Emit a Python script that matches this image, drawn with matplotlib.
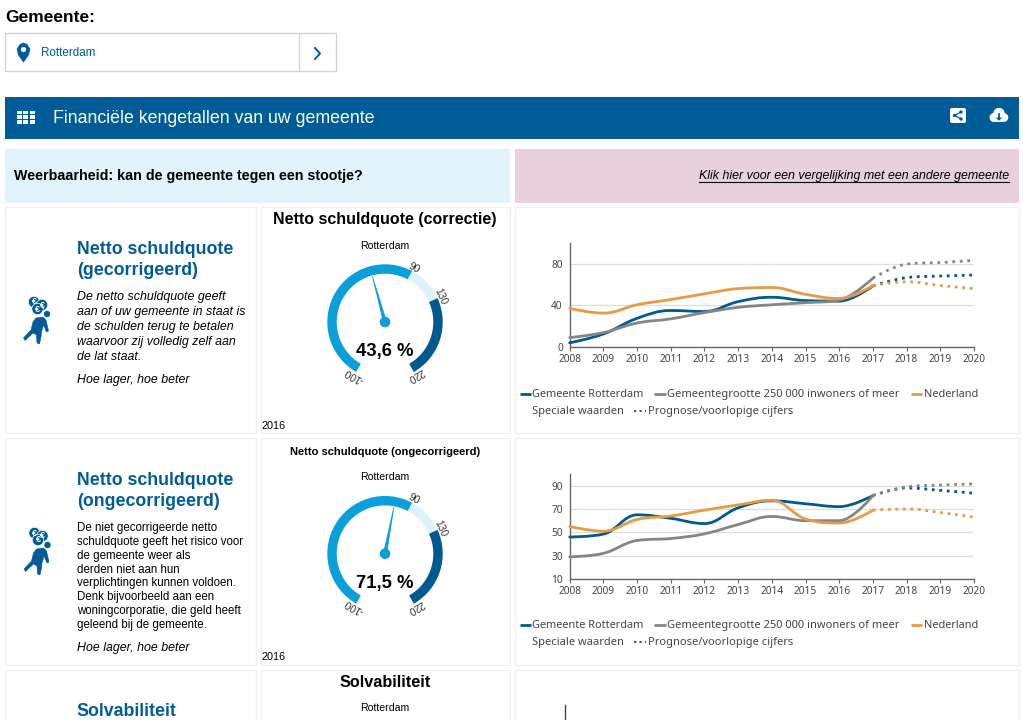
import math
import matplotlib
matplotlib.use('Agg')
import matplotlib.pyplot as plt
from matplotlib.patches import Rectangle, Wedge, Circle, Polygon, PathPatch, FancyBboxPatch
from matplotlib.path import Path

plt.rcParams['font.family'] = ['Liberation Sans', 'DejaVu Sans']

W, H = 1023, 720

years = [2008, 2009, 2010, 2011, 2012, 2013, 2014, 2015, 2016, 2017]
years_prog = [2017, 2018, 2019, 2020]
x_ticks = list(range(2008, 2021))

# chart 1: gecorrigeerd
rot_1 = [4, 12.5, 27.5, 35, 34, 43.5, 47.7, 44.5, 44, 58.6]
rot_1_prog = [58.6, 66.5, 68, 69]
groot_1 = [9, 13.8, 23, 27, 33, 38, 40.5, 42.5, 45, 66]
groot_1_prog = [66, 79.5, 81, 83]
nl_1 = [37, 32.5, 40.5, 45.5, 51, 56, 57, 50.5, 46.5, 59]
nl_1_prog = [59, 62.5, 59, 56]
y_ticks_1 = [0, 40, 80]

# chart 2: ongecorrigeerd
rot_2 = [46, 48.5, 65, 62, 57.5, 71, 77, 74.5, 72, 81.5]
rot_2_prog = [81.5, 88, 86, 83.5]
groot_2 = [29, 32, 43, 44.7, 48.7, 56.7, 63.6, 60, 60, 81.5]
groot_2_prog = [81.5, 89, 90.5, 91.5]
nl_2 = [55, 51, 61, 64, 69, 73.5, 77.5, 61.5, 58, 69]
nl_2_prog = [69, 70, 67, 63]
y_ticks_2 = [10, 30, 50, 70, 90]

# gauges
gauge_bounds = [-100, 90, 130, 220]
gauge_value_1 = 43.6
gauge_value_2 = 71.5

BLUE = '#005c96'
DARK = '#00598f'
GREY = '#858585'
ORANGE = '#e89b45'
CYAN = '#0a9fd8'
PALE = '#dff2fb'
TXT = '#444444'
LEGEND_FONT = 'Noto Sans'


def spline(x, y, s=1.5):
    # same curve as a highcharts spline
    verts = [(x[0], y[0])]
    codes = [Path.MOVETO]
    prev_right = (x[0], y[0])
    for i in range(1, len(x)):
        if i < len(x) - 1:
            d = s + 1
            lx = (s * x[i] + x[i - 1]) / d
            ly = (s * y[i] + y[i - 1]) / d
            rx = (s * x[i] + x[i + 1]) / d
            ry = (s * y[i] + y[i + 1]) / d
            corr = (ry - ly) * (rx - x[i]) / (rx - lx) + y[i] - ry
            ly += corr
            ry += corr
            if ly > y[i - 1] and ly > y[i]:
                ly = max(y[i - 1], y[i])
                ry = 2 * y[i] - ly
            elif ly < y[i - 1] and ly < y[i]:
                ly = min(y[i - 1], y[i])
                ry = 2 * y[i] - ly
            if ry > y[i + 1] and ry > y[i]:
                ry = max(y[i + 1], y[i])
                ly = 2 * y[i] - ry
            elif ry < y[i + 1] and ry < y[i]:
                ry = min(y[i + 1], y[i])
                ly = 2 * y[i] - ry
        else:
            lx, ly, rx, ry = x[i], y[i], x[i], y[i]
        verts += [prev_right, (lx, ly), (x[i], y[i])]
        codes += [Path.CURVE4] * 3
        prev_right = (rx, ry)
    return Path(verts, codes)


fig = plt.figure(figsize=(W / 100, H / 100), dpi=100, facecolor='white')
px = fig.add_axes([0, 0, 1, 1])
px.set_xlim(0, W)
px.set_ylim(H, 0)
px.axis('off')


def box(x0, y0, x1, y1, fc='white', ec='none', lw=1, z=1):
    px.add_patch(Rectangle((x0, y0), x1 - x0, y1 - y0, fc=fc, ec=ec, lw=lw, zorder=z))


def text(x, y, s, size, **kw):
    kw.setdefault('va', 'center')
    kw.setdefault('color', 'black')
    if 'rotation' not in kw:
        y += 1.2
    return px.text(x, y, s, fontsize=size, zorder=5, **kw)


def chart(y_base, y_top, ticks, rows, ymin):
    ax = fig.add_axes([569.7 / W, 1 - y_base / H, (974 - 569.7) / W, (y_base - y_top) / H])
    ax.patch.set_alpha(0)
    ax.set_xlim(2008, 2020)
    ax.set_ylim(ymin, 100)
    for name in ['top', 'right']:
        ax.spines[name].set_visible(False)
    for name in ['left', 'bottom']:
        ax.spines[name].set_color('#666666')
        ax.spines[name].set_linewidth(1.0)
    ax.set_xticks(x_ticks)
    ax.set_yticks(ticks)
    ax.tick_params(axis='x', length=3, width=0.8, color='#666666', labelsize=7.3,
                   labelcolor=TXT, pad=2)
    ax.tick_params(axis='y', length=0, labelsize=7.3, labelcolor=TXT, pad=5)
    for lab in ax.get_xticklabels() + ax.get_yticklabels():
        lab.set_fontfamily(LEGEND_FONT)
    ax.grid(axis='y', color='#dddddd', lw=0.9)
    ax.set_axisbelow(True)
    for vals, prog, col in rows:
        ax.add_patch(PathPatch(spline(years, vals), fc='none', ec=col, lw=2.0,
                               capstyle='round', clip_on=False, zorder=3))
        ax.add_patch(PathPatch(spline(years_prog, prog), fc='none', ec=col, lw=2.0,
                               linestyle=(0, (1.0, 1.7)), clip_on=False, zorder=3))
    return ax


def legend(y):
    y2 = y + 17
    for x0, x1, tx, lab, col, size in [(520, 531, 532, 'Gemeente Rotterdam', DARK, 7.9),
                                       (654, 666, 667, 'Gemeentegrootte 250 000 inwoners of meer', GREY, 8.0),
                                       (911, 922, 924, 'Nederland', ORANGE, 7.9)]:
        px.plot([x0, x1], [y + 0.5, y + 0.5], color=col, lw=2, solid_capstyle='butt', zorder=4)
        text(tx, y, lab, size, color=TXT, family=LEGEND_FONT)
    text(532, y2, 'Speciale waarden', 8.0, color=TXT, family=LEGEND_FONT)
    px.plot([634, 646], [y2 + 0.5, y2 + 0.5], color='#555555', lw=1.4, ls=(0, (1.2, 1.6)), zorder=4)
    text(648, y2, 'Prognose/voorlopige cijfers', 8.0, color=TXT, family=LEGEND_FONT)


def angle(v):
    return -150 + (v - gauge_bounds[0]) / (gauge_bounds[-1] - gauge_bounds[0]) * 300


def gauge(cx, cy, value, label):
    outer, width = 57.7, 9.4
    cols = [CYAN, PALE, DARK]
    for lo, hi, col in zip(gauge_bounds[:-1], gauge_bounds[1:], cols):
        px.add_patch(Wedge((cx, cy), outer, angle(lo) - 90, angle(hi) - 90, width=width,
                           fc=col, ec='none', zorder=3))
    for v in gauge_bounds:
        a = angle(v)
        t = math.radians(a - 90)
        text(cx + 61.5 * math.cos(t), cy + 61.5 * math.sin(t), str(v), 7.4, ha='center',
             color='#333333', rotation=-a, rotation_mode='anchor')
    a = math.radians(angle(value) - 90)
    nx, ny = math.cos(a), math.sin(a)
    px.add_patch(Polygon([(cx - ny * 1.6, cy + nx * 1.6), (cx + nx * 47, cy + ny * 47),
                          (cx + ny * 1.6, cy - nx * 1.6)], fc=CYAN, ec=CYAN, lw=0.5, zorder=3))
    px.add_patch(Circle((cx, cy), 5.3, fc=CYAN, ec='none', zorder=4))
    text(cx, cy + 28.5, label, 13.3, ha='center', weight='bold')


def icon(dx, dy):
    for x, y in [(34, 302), (42, 305), (37.5, 309)]:
        px.add_patch(Circle((x + dx, y + dy), 5.7, fc=BLUE, ec='white', lw=0.5, zorder=3))
        px.text(x + dx, y + dy, '€', fontsize=6.5, ha='center', va='center', color='white',
                weight='bold', zorder=4)
    px.add_patch(Circle((47 + dx, 314 + dy), 3.2, fc=BLUE, ec='none', zorder=3))
    body = [(36, 318), (43, 317), (46, 320), (48.5, 331), (46.5, 332), (43.5, 325), (41.5, 332),
            (41, 337), (39.5, 344), (37, 343), (36.5, 335), (33, 333), (25, 340.5), (23.5, 338),
            (31, 330), (33, 322)]
    px.add_patch(Polygon([(x + dx, y + dy) for x, y in body], fc=BLUE, ec=BLUE, lw=0.4,
                         joinstyle='round', zorder=3))


# panels
for x0, x1 in [(5, 256), (261, 510), (515, 1019)]:
    for y0, y1 in [(207, 433), (438, 665), (670, 730)]:
        box(x0, y0, x1, y1, ec='#f0f0f0', lw=1)

# top block
text(5, 16, 'Gemeente:', 12.5, weight='bold')
box(5, 33, 335.5, 71, ec='#d4d4d4', lw=1)
px.plot([299, 299], [33, 71], color='#d4d4d4', lw=1, zorder=2)
text(41, 52, 'Rotterdam', 8.4, color=BLUE)
px.plot([315, 320, 315], [48, 53.5, 59], color=BLUE, lw=1.4, zorder=3)
px.add_patch(Polygon([(17, 49), (18.5, 55), (23.5, 62), (28.5, 55), (30, 49), (27, 44.5), (23.5, 43), (20, 44.5)],
                     fc=BLUE, ec=BLUE, lw=0.5, joinstyle='round', zorder=3))
px.add_patch(Circle((23.5, 49.5), 2.6, fc='white', ec='none', zorder=4))

# header bar
box(5, 97, 1019, 138.5, fc=BLUE)
text(53, 117.3, 'Financiële kengetallen van uw gemeente', 12.75, color='white')
for i in range(3):
    for j in range(3):
        box(16.5 + i * 6.5, 110.5 + j * 4.7, 21.5 + i * 6.5, 114.3 + j * 4.7, fc='white', z=3)
px.add_patch(FancyBboxPatch((952, 110), 12, 11, boxstyle='round,pad=2', fc='white', ec='none', zorder=3))
for x, y in [(954.5, 115.5), (961, 112), (961, 119)]:
    px.add_patch(Circle((x, y), 1.7, fc=BLUE, ec='none', zorder=4))
px.plot([961, 954.5, 961], [112, 115.5, 119], color=BLUE, lw=0.9, zorder=4)
for x, y, r in [(994, 117.5, 4.5), (999, 113.5, 5.7), (1004, 117.5, 4.3)]:
    px.add_patch(Circle((x, y), r, fc='white', ec='none', zorder=3))
box(994, 116, 1004, 122, fc='white', z=3)
px.plot([999, 999], [113.5, 118.5], color=BLUE, lw=1.3, zorder=4)
px.add_patch(Polygon([(995.8, 117.5), (1002.2, 117.5), (999, 120.8)], fc=BLUE, ec='none', zorder=4))

# question bars
box(5, 149, 510, 203, fc='#e1f3fb')
box(515, 149, 1019, 203, fc='#e8d0dc')
text(14, 175, 'Weerbaarheid: kan de gemeente tegen een stootje?', 10.3, weight='bold')
link = text(1009, 175, 'Klik hier voor een vergelijking met een andere gemeente', 8.95,
            ha='right', style='italic')
fig.canvas.draw()
bb = link.get_window_extent().transformed(px.transData.inverted())
px.plot([min(bb.x0, bb.x1), 1009], [182, 182], color='black', lw=0.8, zorder=5)

# row 1
text(77, 248, 'Netto schuldquote', 12.8, weight='bold', color=BLUE)
text(77, 269, '(gecorrigeerd)', 12.8, weight='bold', color=BLUE)
desc_1 = ['De netto schuldquote geeft', 'aan of uw gemeente in staat is', 'de schulden terug te betalen',
          'waarvoor zij volledig zelf aan', 'de lat staat.']
for i, line in enumerate(desc_1):
    text(77, 296 + i * 14.9, line, 8.95, style='italic')
text(77, 378.5, 'Hoe lager, hoe beter', 8.95, style='italic')
icon(0, 0)
text(385, 218.3, 'Netto schuldquote (correctie)', 11.5, ha='center', weight='bold')
text(385, 244.5, 'Rotterdam', 7.6, ha='center')
gauge(385, 322, gauge_value_1, '43,6 %')
text(262, 424.5, '2016', 7.8)
chart(347, 242.7, y_ticks_1, [(rot_1, rot_1_prog, DARK), (groot_1, groot_1_prog, GREY),
                              (nl_1, nl_1_prog, ORANGE)], 0)
legend(393)

# row 2
text(77, 479.5, 'Netto schuldquote', 12.8, weight='bold', color=BLUE)
text(77, 500.5, '(ongecorrigeerd)', 12.8, weight='bold', color=BLUE)
desc_2 = ['De niet gecorrigeerde netto', 'schuldquote geeft het risico voor', 'de gemeente weer als',
          'derden niet aan hun', 'verplichtingen kunnen voldoen.', 'Denk bijvoorbeeld aan een',
          'woningcorporatie, die geld heeft', 'geleend bij de gemeente.']
for i, line in enumerate(desc_2):
    text(77, 527 + i * 13.8, line, 8.3)
text(77, 646.5, 'Hoe lager, hoe beter', 8.95, style='italic')
icon(0.5, 231)
text(385, 450.6, 'Netto schuldquote (ongecorrigeerd)', 8.0, ha='center', weight='bold')
text(385, 475.8, 'Rotterdam', 7.6, ha='center')
gauge(385, 553.7, gauge_value_2, '71,5 %')
text(262, 655.5, '2016', 7.8)
chart(579, 474, y_ticks_2, [(rot_2, rot_2_prog, DARK), (groot_2, groot_2_prog, GREY),
                            (nl_2, nl_2_prog, ORANGE)], 10)
legend(624)

# row 3, cut off by the bottom of the picture
text(76.5, 710.5, 'Solvabiliteit', 12.8, weight='bold', color=BLUE)
text(385, 681, 'Solvabiliteit', 11.7, ha='center', weight='bold')
text(385, 706.8, 'Rotterdam', 7.6, ha='center')
px.plot([564.5, 564.5], [705, 720], color='#444444', lw=1, zorder=3)

fig.savefig('out.png', dpi=100)
